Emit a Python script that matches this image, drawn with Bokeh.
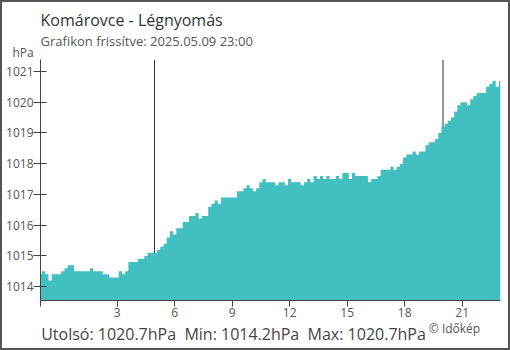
from bokeh.plotting import figure
from bokeh.models import Range1d, FixedTicker, Span, Title, LinearAxis
from bokeh.embed import file_html
from bokeh.resources import INLINE

# ---- data ----
title = "Komárovce - Légnyomás"
subtitle = "Grafikon frissítve: 2025.05.09 23:00"
unit = "hPa"
stats = "Utolsó: 1020.7hPa  Min: 1014.2hPa  Max: 1020.7hPa"
credit = "© Időkép"
credit_hour = 20.6   # where the credit is centred along the time axis
stats_hour = 9.07    # where the summary line is centred along the time axis

# hours relative to the day (from 23:00 previous day), 10-minute steps
start_hour = -1.0
step_hours = 1.0 / 6.0
pressure = [
    1014.4, 1014.5, 1014.4, 1014.2, 1014.4, 1014.4, 1014.4, 1014.5, 1014.6, 1014.7,
    1014.7, 1014.5, 1014.5, 1014.5, 1014.5, 1014.5, 1014.6, 1014.5, 1014.5, 1014.5,
    1014.4, 1014.4, 1014.3, 1014.3, 1014.3, 1014.5, 1014.4, 1014.5, 1014.8, 1014.8,
    1014.8, 1014.9, 1014.9, 1015.0, 1015.1, 1015.1, 1015.1, 1015.2, 1015.3, 1015.4,
    1015.6, 1015.8, 1015.7, 1015.9, 1015.9, 1016.1, 1016.1, 1016.3, 1016.3, 1016.4,
    1016.2, 1016.3, 1016.3, 1016.6, 1016.7, 1016.8, 1016.7, 1016.9, 1016.9, 1016.9,
    1016.9, 1016.9, 1017.1, 1017.1, 1017.2, 1017.3, 1017.2, 1017.1, 1017.2, 1017.4,
    1017.5, 1017.4, 1017.4, 1017.4, 1017.3, 1017.4, 1017.4, 1017.3, 1017.5, 1017.4,
    1017.4, 1017.4, 1017.3, 1017.4, 1017.5, 1017.4, 1017.6, 1017.5, 1017.6, 1017.5,
    1017.6, 1017.5, 1017.5, 1017.6, 1017.5, 1017.7, 1017.7, 1017.5, 1017.7, 1017.6,
    1017.6, 1017.6, 1017.6, 1017.4, 1017.5, 1017.5, 1017.6, 1017.8, 1017.8, 1017.8,
    1017.9, 1017.8, 1017.9, 1018.0, 1018.2, 1018.3, 1018.3, 1018.4, 1018.3, 1018.4,
    1018.4, 1018.6, 1018.7, 1018.7, 1018.8, 1019.0, 1019.2, 1019.3, 1019.4, 1019.5,
    1019.7, 1019.9, 1020.0, 1020.0, 1019.9, 1020.1, 1020.2, 1020.3, 1020.3, 1020.3,
    1020.5, 1020.6, 1020.7, 1020.5, 1020.7,
]
hours = [start_hour + i * step_hours for i in range(len(pressure))]

sun_markers = [4.95, 20.0]           # sunrise / sunset hours
x_ticks = [-1, 3, 6, 9, 12, 15, 18, 21]
x_tick_labels = {-1: "", 3: "3", 6: "6", 9: "9", 12: "12", 15: "15", 18: "18", 21: "21"}
y_ticks = [1014, 1015, 1016, 1017, 1018, 1019, 1020, 1021]

X_RANGE = (-1, 23)
Y_RANGE = (1013.55, 1021.39)

FONT = "Open Sans"
TEAL = "#41bfc1"

p = figure(width=510, height=350, output_backend="svg", toolbar_location=None,
           x_range=Range1d(*X_RANGE), y_range=Range1d(*Y_RANGE),
           min_border_left=40, min_border_right=10, min_border_top=58, min_border_bottom=50)
p.title = None
p.outline_line_color = None
p.xgrid.visible = False
p.ygrid.visible = False
p.background_fill_color = "white"
p.border_fill_color = None
p.styles = {"box-shadow": "inset 0 0 0 2px #555", "background-color": "white"}

for h in sun_markers:
    p.add_layout(Span(location=h, dimension="height", line_color="#333", line_width=1, level="underlay"))

try:
    p.varea_step(x=hours, y1=Y_RANGE[0], y2=pressure, step_mode="center",
                 fill_color=TEAL, fill_alpha=1.0)
except Exception:
    p.varea(x=hours, y1=Y_RANGE[0], y2=pressure, fill_color=TEAL, fill_alpha=1.0)

# main x axis
xa = p.xaxis[0]
xa.ticker = FixedTicker(ticks=x_ticks)
xa.major_label_overrides = x_tick_labels
xa.minor_tick_line_color = None
xa.major_tick_in = 0
xa.major_tick_out = 6
xa.axis_line_color = "#444"
xa.major_tick_line_color = "#444"
xa.major_label_text_font = FONT
xa.major_label_text_font_size = "12px"
xa.major_label_text_color = "#555"
xa.major_label_standoff = 1

# y axis
ya = p.yaxis[0]
ya.ticker = FixedTicker(ticks=y_ticks)
ya.minor_tick_line_color = None
ya.major_tick_in = 6
ya.major_tick_out = 7
ya.axis_line_color = "#444"
ya.major_tick_line_color = "#444"
ya.major_label_text_font = FONT
ya.major_label_text_font_size = "12px"
ya.major_label_text_color = "#555"
ya.major_label_standoff = 0


def text_axis(pos, txt, size, color, standoff):
    ax = LinearAxis(ticker=FixedTicker(ticks=[pos]), major_label_overrides={pos: txt})
    ax.axis_line_color = None
    ax.major_tick_line_color = None
    ax.minor_tick_line_color = None
    ax.major_tick_in = 0
    ax.major_tick_out = 0
    ax.major_label_standoff = standoff
    ax.major_label_text_font = FONT
    ax.major_label_text_font_size = size
    ax.major_label_text_color = color
    return ax

# below the time axis: credit, then the summary line pulled up onto the same row
p.add_layout(text_axis(credit_hour, credit, "12px", "#555", 0), "below")
p.add_layout(text_axis(stats_hour, stats.replace("  ", " \u00a0"), "16px", "#444", -17), "below")


def make_title(txt, size, color, offset=0, standoff=0):
    return Title(text=txt, text_font=FONT, text_font_size=size, text_color=color,
                 text_font_style="normal", align="left", offset=offset, standoff=standoff)

# above: closest to frame first
p.add_layout(make_title(unit, "12px", "#555", offset=-28, standoff=-3), "above")
p.add_layout(make_title(subtitle, "13px", "#555", standoff=-13), "above")
p.add_layout(make_title(title, "16px", "#333", standoff=12), "above")

open("out.html", "w").write(file_html(p, INLINE))
